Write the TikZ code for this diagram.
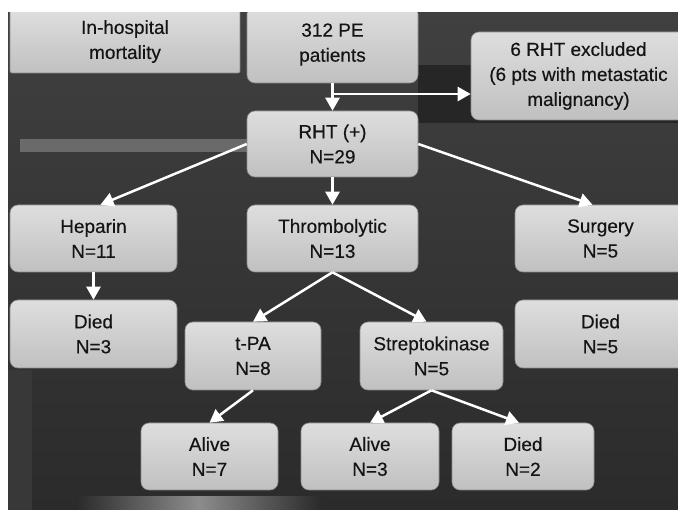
\documentclass[tikz,border=0pt]{standalone}
\usepackage{fontspec}
\setmainfont{Liberation Sans}
\newfontfamily\boxfam{Liberation Sans}[FakeBold=0.35]
\usetikzlibrary{arrows.meta}
\definecolor{bgtop}{HTML}{404040}
\definecolor{bgbot}{HTML}{2B2B2B}
\definecolor{bandc}{HTML}{262626}
\definecolor{barc}{HTML}{6A6A6A}
\definecolor{boxtop}{HTML}{DEDEDE}
\definecolor{boxbot}{HTML}{C0C0C0}
\definecolor{boxedge}{HTML}{8C8C8C}
\definecolor{txt}{HTML}{141414}
\newcommand\boxfont{\boxfam\fontsize{19}{25}\selectfont}
\tikzset{
  fbox/.style={rounded corners=8pt, top color=boxtop, bottom color=boxbot,
    draw=boxedge, line width=0.6pt, align=center, inner sep=0pt,
    font=\boxfont, text=txt},
  conn/.style={draw=white, line width=2.5pt,
    -{Triangle[length=13pt,width=14pt]}}
}
\begin{document}
\begin{tikzpicture}[x=1pt,y=-1pt]
\useasboundingbox (0,0) rectangle (678,510);
\fill[white] (0,0) rectangle (678,510);
\begin{scope}
\clip (8,13) rectangle (678,510);
\shade[top color=bgtop, bottom color=bgbot] (8,13) rectangle (678,510);
\fill[bandc] (418,65) rectangle (678,123);
\fill[barc] (20,139) rectangle (247,152);
\shade[left color=bgbot, right color=bgbot, middle color=black!45] (77,497) rectangle (320,510);
\fill[black!78] (8,370) rectangle (32,510);
\node[fbox, rounded corners=2pt, minimum width=230pt, minimum height=63pt] (inhosp) at (125,41.5) {In-hospital\\mortality};
\node[fbox, minimum width=171pt, minimum height=77pt] (pe) at (332.5,44.5) {312 PE\\patients};
\node[fbox, minimum width=215pt, minimum height=88pt] (excl) at (578.5,76) {6 RHT excluded\\(6 pts with metastatic\\malignancy)};
\node[fbox, minimum width=171pt, minimum height=66pt] (rht) at (332.5,144) {RHT (+)\\N=29};
\node[fbox, minimum width=167pt, minimum height=67pt] (hep) at (93.5,238.5) {Heparin\\N=11};
\node[fbox, minimum width=171pt, minimum height=67pt] (thr) at (332.5,238.5) {Thrombolytic\\N=13};
\node[fbox, minimum width=171pt, minimum height=67pt] (sur) at (600.5,238.5) {Surgery\\N=5};
\node[fbox, minimum width=167pt, minimum height=68pt] (died3) at (93.5,334) {Died\\N=3};
\node[fbox, minimum width=171pt, minimum height=68pt] (died5) at (600.5,334) {Died\\N=5};
\node[fbox, minimum width=136pt, minimum height=68pt] (tpa) at (253,356) {t-PA\\N=8};
\node[fbox, minimum width=143pt, minimum height=68pt] (strep) at (431.5,356) {Streptokinase\\N=5};
\node[fbox, minimum width=137pt, minimum height=67pt] (alive7) at (209.5,456.5) {Alive\\N=7};
\node[fbox, minimum width=138pt, minimum height=67pt] (alive3) at (370,456.5) {Alive\\N=3};
\node[fbox, minimum width=142pt, minimum height=67pt] (died2) at (523,456.5) {Died\\N=2};
\end{scope}
\coordinate (split) at (332.5,94);
\draw[conn] (pe.south) -- (rht.north);
\draw[conn] (split) -- (split -| excl.west);
\draw[conn] (rht.west) -- ([xshift=7pt]hep.north);
\draw[conn] (rht.south) -- (thr.north);
\draw[conn] (rht.east) -- ([xshift=-8pt]sur.north);
\draw[conn] (hep.south) -- (died3.north);
\draw[conn] (thr.south) -- (tpa.north);
\draw[conn] (thr.south) -- ([xshift=-5pt]strep.north);
\draw[conn] (tpa.south) -- (alive7.north);
\draw[conn] (strep.south) -- (alive3.north);
\draw[conn] (strep.south) -- ([xshift=-4pt]died2.north);
\end{tikzpicture}
\end{document}
